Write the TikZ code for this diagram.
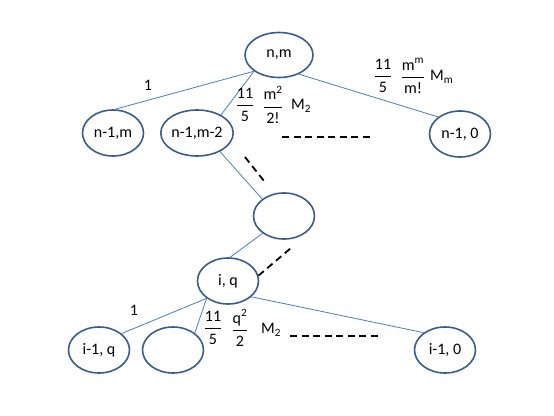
\documentclass[tikz,border=0pt]{standalone}
\usepackage{fontspec}
\setmainfont{Carlito}
\usetikzlibrary{shapes.geometric}
\definecolor{ebor}{RGB}{56,93,138}
\definecolor{conn}{RGB}{74,126,187}
\newcommand\myfr[2]{$\displaystyle\frac{\hbox{#1}}{\hbox{#2}}$}
\begin{document}
\begin{tikzpicture}[x=1pt,y=-1pt,
  every node/.style={font=\fontsize{16}{19}\selectfont, inner sep=0pt},
  ell/.style={ellipse, draw=ebor, line width=1.6pt, minimum width=61pt, minimum height=46pt},
  bigell/.style={ell, minimum width=68pt, minimum height=45pt},
  conline/.style={draw=conn, line width=0.8pt},
  dline/.style={draw=black, line width=1.8pt, dash pattern=on 7pt off 4.5pt}]
\useasboundingbox (0,0) rectangle (554,415);
% nodes
\node[bigell] (nm) at (279,55) {n,m};
\node[ell] (n1m) at (113,133) {n-1,m};
\node[ell] (n1m2) at (197,133) {n-1,m-2};
\node[ell] (n10) at (460,134) {n-1, 0};
\node[ell] (mid) at (284,216) {};
\node[ell] (iq) at (228,281) {i, q};
\node[ell] (i1q) at (99,350) {i-1, q};
\node[ell] (eb) at (173,350) {};
\node[ell] (i10) at (445,350) {i-1, 0};
% connectors
\draw[conline] (nm.213) -- (n1m.85);
\draw[conline] (nm.213) -- (n1m2.37);
\draw[conline] (nm.316) -- (n10.142);
\draw[conline] (n1m2.321) -- (mid.142);
\draw[conline] (mid.219) -- (iq.85);
\draw[conline] (iq.219) -- (i1q.36);
\draw[conline] (iq.219) -- (eb.38);
\draw[conline] (iq.326) -- (i10.141);
% dashed lines
\coordinate (da1) at (245,157);
\coordinate (da2) at (264,181);
\coordinate (db) at (291,248);
\coordinate (dc1) at (282,137);
\coordinate (dc2) at (370,137);
\coordinate (dd1) at (290,336);
\coordinate (dd2) at (378,336);
\draw[dline] (da1) -- (da2);
\draw[dline] (iq.10) -- (db);
\draw[dline] (dc1) -- (dc2);
\draw[dline] (dd1) -- (dd2);
% labels
\node (l1) at (148,85) {1};
\node (f1a) at (245,105) {\myfr{11}{5}};
\node (f1b) at (273,105) {\myfr{m\textsuperscript{2}}{2!}};
\node[anchor=west] (f1c) at (291,106) {M\textsubscript{2}};
\node (f2a) at (383,76) {\myfr{11}{5}};
\node (f2b) at (413,76) {\myfr{m\textsuperscript{m}}{m!}};
\node[anchor=west] (f2c) at (430,77) {M\textsubscript{m}};
\node (l2) at (134,310) {1};
\node (f3a) at (213,328) {\myfr{11}{5}};
\node (f3b) at (240,328) {\myfr{q\textsuperscript{2}}{2}};
\node[anchor=west] (f3c) at (261,330) {M\textsubscript{2}};
\end{tikzpicture}
\end{document}
